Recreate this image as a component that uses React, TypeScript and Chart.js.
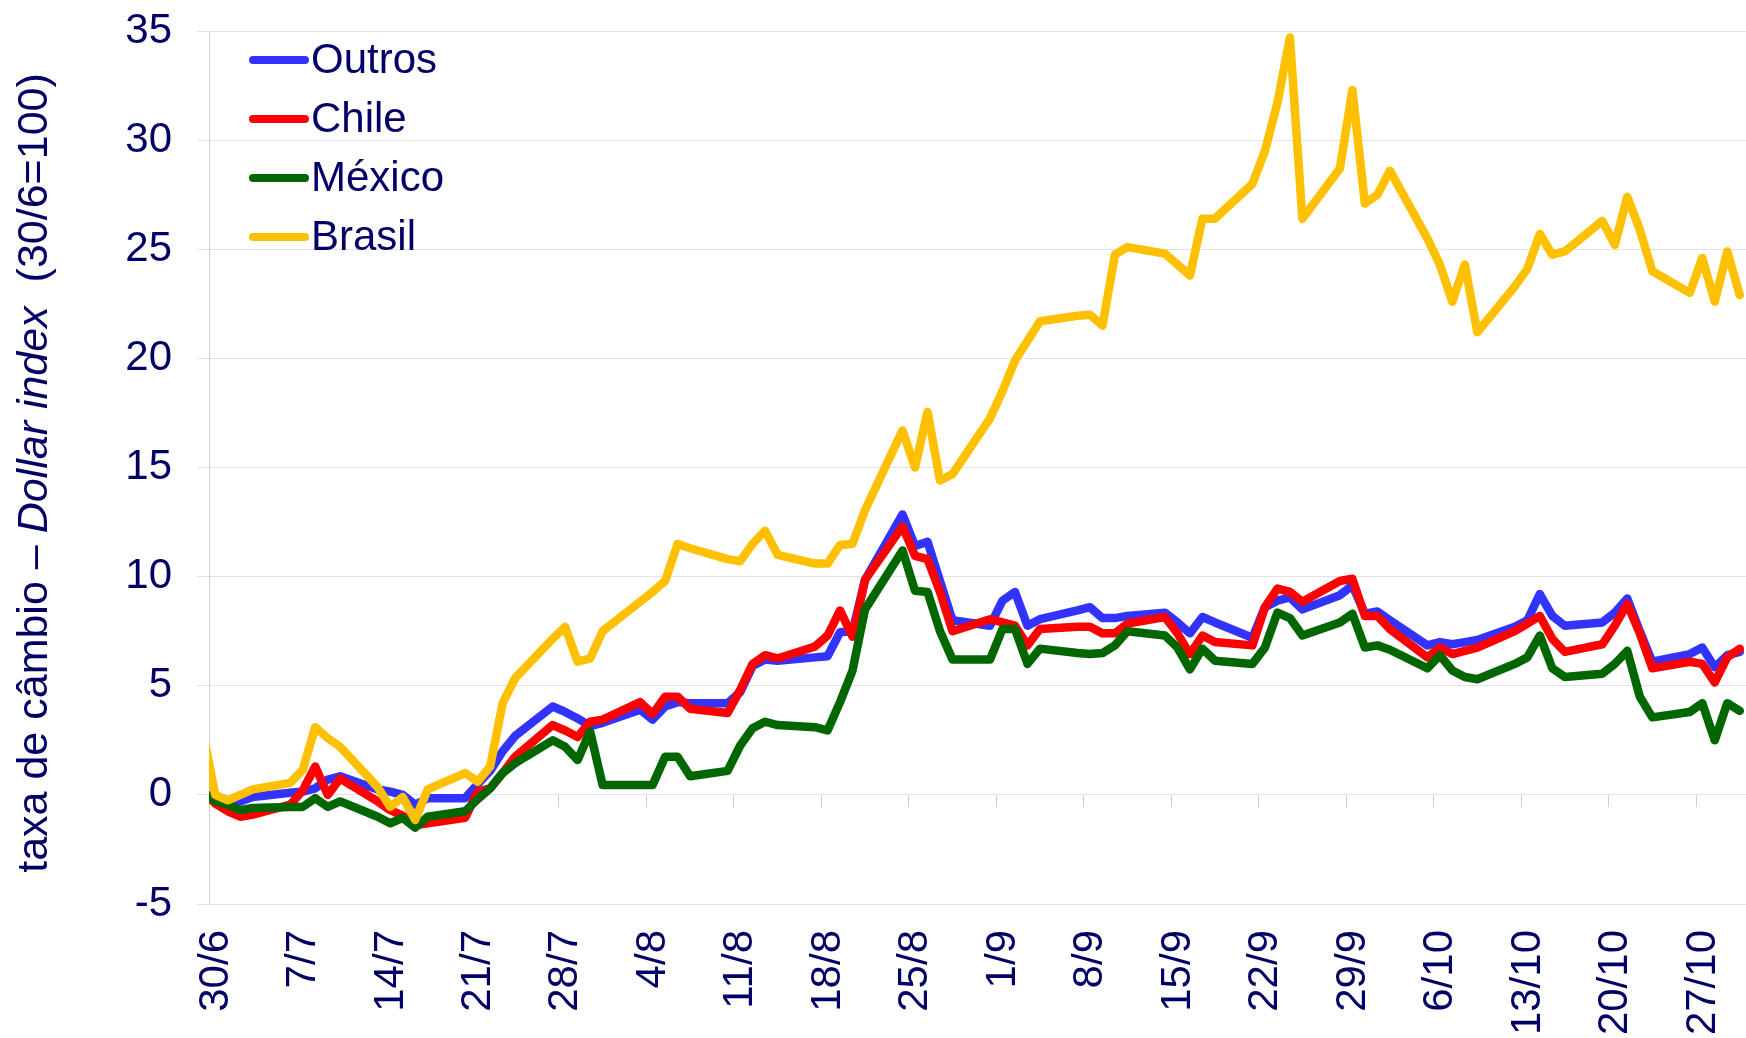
import React, { useEffect, useRef } from "react";
import { Chart, registerables } from "chart.js";

Chart.register(...registerables);

// Business days (2008)
const dates = [
  "30/6", "1/7", "2/7", "3/7", "4/7",
  "7/7", "8/7", "9/7", "10/7", "11/7",
  "14/7", "15/7", "16/7", "17/7", "18/7",
  "21/7", "22/7", "23/7", "24/7", "25/7",
  "28/7", "29/7", "30/7", "31/7", "1/8",
  "4/8", "5/8", "6/8", "7/8", "8/8",
  "11/8", "12/8", "13/8", "14/8", "15/8",
  "18/8", "19/8", "20/8", "21/8", "22/8",
  "25/8", "26/8", "27/8", "28/8", "29/8",
  "1/9", "2/9", "3/9", "4/9", "5/9",
  "8/9", "9/9", "10/9", "11/9", "12/9",
  "15/9", "16/9", "17/9", "18/9", "19/9",
  "22/9", "23/9", "24/9", "25/9", "26/9",
  "29/9", "30/9", "1/10", "2/10", "3/10",
  "6/10", "7/10", "8/10", "9/10", "10/10",
  "13/10", "14/10", "15/10", "16/10", "17/10",
  "20/10", "21/10", "22/10", "23/10", "24/10",
  "27/10", "28/10", "29/10", "30/10", "31/10",
];

const tickLabels = [
  "30/6", "7/7", "14/7", "21/7", "28/7", "4/8", "11/8", "18/8", "25/8",
  "1/9", "8/9", "15/9", "22/9", "29/9", "6/10", "13/10", "20/10", "27/10",
];

const outros = [
  0.1, -0.2, -0.35, -0.3, -0.1,
  0.1, 0.15, 0.3, 0.7, 0.85,
  0.25, 0.15, 0.0, -0.45, -0.15,
  -0.15, 0.5, 1.1, 2.0, 2.7,
  4.05, 3.8, 3.5, 3.15, 3.3,
  3.9, 3.45, 4.05, 4.25, 4.2,
  4.2, 4.7, 5.9, 6.2, 6.15,
  6.3, 6.35, 7.45, 7.5, 9.85,
  12.85, 11.4, 11.6, 9.8, 8.0,
  7.75, 8.9, 9.3, 7.75, 8.05,
  8.45, 8.6, 8.1, 8.1, 8.2,
  8.35, 7.9, 7.4, 8.15, 7.9,
  7.2, 8.6, 8.9, 9.05, 8.5,
  9.15, 9.6, 8.3, 8.4, 8.0,
  6.85, 7.0, 6.9, 7.0, 7.1,
  7.7, 8.0, 9.2, 8.2, 7.75,
  7.9, 8.35, 9.0, 7.5, 6.1,
  6.45, 6.75, 5.85, 6.4, 6.55,
];

const chile = [
  0.2, -0.4, -0.75, -1.0, -0.9,
  -0.45, 0.2, 1.3, 0.0, 0.75,
  -0.3, -0.7, -0.95, -1.4, -1.3,
  -1.05, 0.15, 0.3, 1.0, 1.75,
  3.2, 2.95, 2.65, 3.35, 3.45,
  4.25, 3.7, 4.5, 4.5, 3.95,
  3.75, 4.8, 6.0, 6.4, 6.25,
  6.8, 7.3, 8.45, 7.25, 9.85,
  12.3, 10.95, 10.8, 9.3, 7.5,
  8.05, 7.9, 7.75, 6.85, 7.6,
  7.7, 7.7, 7.4, 7.4, 7.85,
  8.15, 7.4, 6.45, 7.3, 7.0,
  6.85, 8.6, 9.45, 9.3, 8.85,
  9.8, 9.9, 8.2, 8.2, 7.6,
  6.3, 6.75, 6.45, 6.6, 6.75,
  7.5, 7.85, 8.2, 7.15, 6.55,
  6.9, 7.75, 8.75, 7.4, 5.8,
  6.1, 6.0, 5.15, 6.3, 6.7,
];

const mexico = [
  0.15, -0.3, -0.45, -0.7, -0.6,
  -0.55, -0.55, -0.15, -0.55, -0.3,
  -1.0, -1.3, -1.05, -1.5, -1.0,
  -0.75, -0.2, 0.3, 1.0, 1.45,
  2.5, 2.2, 1.6, 2.9, 0.45,
  0.45, 0.45, 1.75, 1.75, 0.85,
  1.1, 2.25, 3.05, 3.35, 3.2,
  3.1, 2.95, 4.25, 5.7, 8.5,
  11.2, 9.35, 9.3, 7.5, 6.2,
  6.2, 7.6, 7.6, 6.0, 6.7,
  6.5, 6.45, 6.5, 6.85, 7.5,
  7.3, 6.75, 5.75, 6.7, 6.15,
  6.0, 6.75, 8.35, 8.1, 7.3,
  7.9, 8.3, 6.75, 6.85, 6.65,
  5.8, 6.4, 5.7, 5.4, 5.3,
  6.0, 6.3, 7.3, 5.8, 5.4,
  5.55, 6.0, 6.6, 4.5, 3.55,
  3.8, 4.2, 2.5, 4.2, 3.85,
];

const brasil = [
  2.9, 0.0, -0.25, 0.0, 0.25,
  0.55, 1.15, 3.1, 2.6, 2.2,
  0.35, -0.55, -0.1, -1.15, 0.25,
  1.0, 0.6, 1.3, 4.2, 5.35,
  7.15, 7.7, 6.1, 6.25, 7.5,
  8.85, 9.3, 9.8, 11.5, 11.3,
  10.8, 10.7, 11.5, 12.1, 11.0,
  10.6, 10.6, 11.45, 11.5, 13.05,
  16.7, 15.0, 17.55, 14.4, 14.7,
  17.25, 18.5, 19.9, 20.8, 21.7,
  21.95, 22.0, 21.5, 24.75, 25.1,
  24.8, 24.3, 23.8, 26.4, 26.4,
  28.0, 29.5, 31.7, 34.7, 26.4,
  28.7, 32.3, 27.1, 27.5, 28.6,
  25.5, 24.3, 22.6, 24.3, 21.2,
  23.3, 24.1, 25.7, 24.75, 24.9,
  26.3, 25.2, 27.4, 25.9, 24.0,
  23.0, 24.6, 22.6, 24.9, 22.9,
];

const seriesNames = ["Outros", "Chile", "México", "Brasil"];
const seriesColors = ["#3333FF", "#FF0000", "#006600", "#FFC000"];
const seriesValues = [outros, chile, mexico, brasil];

const yTitleParts = [
  { text: "taxa de câmbio – ", italic: false },
  { text: "Dollar index", italic: true },
  { text: "  (30/6=100)", italic: false },
];

const FONT = '"Liberation Sans", Arial, Helvetica, sans-serif';
const TEXT_COLOR = "#000066";
const GRID_COLOR = "#e2e2e2";
const TICK_SHIFT = 0.5;

function dayOffset(s: string): number {
  const [d, m] = s.split("/").map(Number);
  return Math.round((Date.UTC(2008, m - 1, d) - Date.UTC(2008, 5, 30)) / 86400000);
}

const X_MIN = dayOffset(dates[0]) + TICK_SHIFT;
const X_MAX = dayOffset(dates[dates.length - 1]) + TICK_SHIFT;

const setWeekTicks = (scale: any) => {
  scale.ticks = tickLabels.map((l) => ({ value: dayOffset(l) + TICK_SHIFT }));
};

const noPadding = (scale: any) => {
  scale.paddingLeft = 0;
  scale.paddingRight = 0;
  scale.paddingTop = 0;
  scale.paddingBottom = 0;
};

const overlayPlugin = {
  id: "overlay",
  afterDraw(chart: any) {
    const ctx = chart.ctx as CanvasRenderingContext2D;
    // Legend
    ctx.save();
    seriesNames.forEach((name, i) => {
      const y = 60 + i * 59;
      ctx.strokeStyle = seriesColors[i];
      ctx.lineWidth = 8;
      ctx.lineCap = "round";
      ctx.beginPath();
      ctx.moveTo(253, y);
      ctx.lineTo(305, y);
      ctx.stroke();
      ctx.fillStyle = TEXT_COLOR;
      ctx.font = `42px ${FONT}`;
      ctx.textAlign = "left";
      ctx.textBaseline = "middle";
      ctx.fillText(name, 311, y + 1);
    });
    ctx.restore();

    // Y axis title (mixed italic)
    ctx.save();
    ctx.translate(35, 473);
    ctx.rotate(-Math.PI / 2);
    ctx.fillStyle = TEXT_COLOR;
    ctx.textBaseline = "middle";
    ctx.textAlign = "left";
    const fonts = yTitleParts.map((p) => `${p.italic ? "italic " : ""}43px ${FONT}`);
    let total = 0;
    const widths = yTitleParts.map((p, i) => {
      ctx.font = fonts[i];
      const w = ctx.measureText(p.text).width;
      total += w;
      return w;
    });
    let x = -total / 2;
    yTitleParts.forEach((p, i) => {
      ctx.font = fonts[i];
      ctx.fillText(p.text, x, 0);
      x += widths[i];
    });
    ctx.restore();
  },
};

export default function App() {
  const canvasRef = useRef<HTMLCanvasElement | null>(null);

  useEffect(() => {
    if (!canvasRef.current) return;
    const datasets = seriesNames.map((name, s) => ({
      label: name,
      data: dates.map((d, i) => ({ x: dayOffset(d), y: seriesValues[s][i] })),
      borderColor: seriesColors[s],
      backgroundColor: seriesColors[s],
      borderWidth: 8.5,
      pointRadius: 0,
      tension: 0,
      borderJoinStyle: "round" as const,
      borderCapStyle: "round" as const,
      clip: 0,
      order: 4 - s,
    }));

    const chart = new Chart(canvasRef.current, {
      type: "line",
      data: { datasets },
      options: {
        animation: false,
        responsive: false,
        devicePixelRatio: 1,
        layout: { padding: { top: 31, left: 0, right: 0, bottom: 0 } },
        plugins: {
          legend: { display: false },
          tooltip: { enabled: false },
        },
        scales: {
          x: {
            type: "linear",
            position: "bottom",
            min: X_MIN,
            max: X_MAX,
            afterBuildTicks: setWeekTicks,
            afterFit: (scale: any) => {
              scale.height = 134;
              noPadding(scale);
            },
            grid: { display: false },
            border: { display: false },
            ticks: {
              autoSkip: false,
              minRotation: 90,
              maxRotation: 90,
              padding: 18,
              labelOffset: 7,
              color: TEXT_COLOR,
              font: { family: FONT, size: 42 },
              callback: (_v: any, i: number) => tickLabels[i],
            },
          },
          x2: {
            type: "linear",
            axis: "x",
            position: { y: 0 } as any,
            min: X_MIN,
            max: X_MAX,
            afterBuildTicks: setWeekTicks,
            afterFit: noPadding,
            grid: {
              display: true,
              drawOnChartArea: false,
              drawTicks: true,
              tickLength: 12,
              color: "#cfcfcf",
            },
            border: { display: false },
            ticks: { display: false },
          },
          y: {
            type: "linear",
            min: -5,
            max: 35,
            afterFit: (scale: any) => {
              scale.width = 209;
              noPadding(scale);
            },
            ticks: {
              stepSize: 5,
              padding: 25,
              color: TEXT_COLOR,
              font: { family: FONT, size: 42 },
            },
            grid: {
              color: GRID_COLOR,
              tickLength: 12,
              drawTicks: true,
            },
            border: { display: true, color: "#d0d0d0" },
          },
        },
      } as any,
      plugins: [overlayPlugin],
    });
    return () => chart.destroy();
  }, []);

  return (
    <div style={{ position: "fixed", left: 0, top: 0, width: 1746, height: 1038, background: "#fff" }}>
      <canvas ref={canvasRef} width={1746} height={1038} />
    </div>
  );
}
